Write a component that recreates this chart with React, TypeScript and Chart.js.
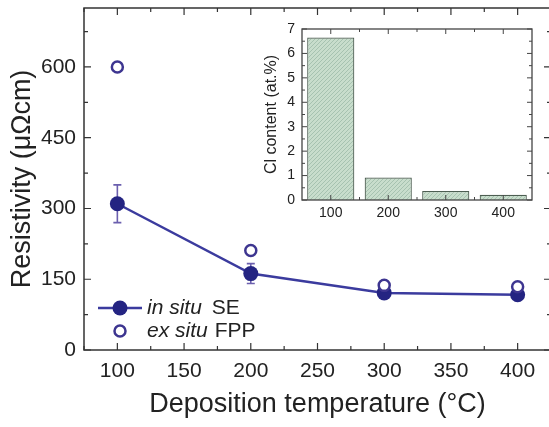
import React, { useEffect, useRef } from 'react';
import { Chart, registerables } from 'chart.js';
Chart.register(...registerables);

// ---- data ----
const temperatures = [100, 200, 300, 400];
const inSituSE = [310, 162, 121, 117];
const inSituErr = [40, 21, 5, 5];
const exSituFPP = [600, 211, 137, 134];
const clCategories = ['100', '200', '300', '400'];
const clContent = [6.65, 0.92, 0.37, 0.21];
const xTickLabels = [100, 150, 200, 250, 300, 350, 400];
const yTickLabels = [0, 150, 300, 450, 600];
const insetYTicks = [0, 1, 2, 3, 4, 5, 6, 7];

const FONT = "'Liberation Sans', Arial, Helvetica, sans-serif";
const TEXT = '#222';
const FRAME = '#333';

const mainFrame = {
  id: 'mainFrame',
  beforeDatasetsDraw(chart: any) {
    const { ctx, chartArea: a, scales } = chart;
    const x = scales.x, y = scales.y;
    ctx.save();
    ctx.strokeStyle = FRAME;
    ctx.lineWidth = 1.5;
    ctx.strokeRect(a.left, a.top, a.right - a.left, a.bottom - a.top);
    ctx.lineWidth = 1.2;
    ctx.beginPath();
    for (let v = x.min; v <= x.max + 1e-6; v += 25) {
      const px = x.getPixelForValue(v);
      const len = v % 50 === 0 ? 7 : 4;
      ctx.moveTo(px, a.bottom); ctx.lineTo(px, a.bottom - len);
      ctx.moveTo(px, a.top); ctx.lineTo(px, a.top + len);
    }
    for (let v = 0; v <= y.max; v += 75) {
      const py = y.getPixelForValue(v);
      const len = v % 150 === 0 ? 7 : 4;
      ctx.moveTo(a.left, py); ctx.lineTo(a.left + len, py);
      ctx.moveTo(a.right, py); ctx.lineTo(a.right - len, py);
    }
    ctx.stroke();
    // error bars
    ctx.strokeStyle = '#6b5fae';
    ctx.lineWidth = 1.6;
    ctx.beginPath();
    temperatures.forEach((t, i) => {
      const px = x.getPixelForValue(t);
      const top = y.getPixelForValue(inSituSE[i] + inSituErr[i]);
      const bot = y.getPixelForValue(inSituSE[i] - inSituErr[i]);
      ctx.moveTo(px, top); ctx.lineTo(px, bot);
      ctx.moveTo(px - 4, top); ctx.lineTo(px + 4, top);
      ctx.moveTo(px - 4, bot); ctx.lineTo(px + 4, bot);
    });
    ctx.stroke();
    ctx.restore();
  },
  afterDatasetsDraw(chart: any) {
    const { ctx } = chart;
    ctx.save();
    // legend
    const lx = 120, y1 = 308, y2 = 331, tx = 147;
    ctx.strokeStyle = '#3b3b9e';
    ctx.lineWidth = 2.5;
    ctx.beginPath(); ctx.moveTo(98, y1); ctx.lineTo(142, y1); ctx.stroke();
    ctx.fillStyle = '#242482';
    ctx.beginPath(); ctx.arc(lx, y1, 7.5, 0, Math.PI * 2); ctx.fill();
    ctx.strokeStyle = '#3d3590';
    ctx.fillStyle = '#fff';
    ctx.lineWidth = 2.5;
    ctx.beginPath(); ctx.arc(lx, y2, 5.5, 0, Math.PI * 2); ctx.fill(); ctx.stroke();
    ctx.fillStyle = TEXT;
    ctx.textBaseline = 'middle';
    ctx.textAlign = 'left';
    ctx.font = `italic 21px ${FONT}`;
    const w1 = ctx.measureText('in situ').width;
    ctx.fillText('in situ', tx, y1);
    const w2 = ctx.measureText('ex situ').width;
    ctx.fillText('ex situ', tx, y2);
    ctx.font = `21px ${FONT}`;
    ctx.fillText('SE', tx + w1 + 10, y1);
    ctx.fillText('FPP', tx + w2 + 7, y2);
    ctx.restore();
  },
};

const insetFrame = {
  id: 'insetFrame',
  beforeDatasetsDraw(chart: any) {
    const { ctx, chartArea: a } = chart;
    ctx.save();
    ctx.fillStyle = '#fff';
    ctx.fillRect(a.left, a.top, a.right - a.left, a.bottom - a.top);
    ctx.restore();
  },
  afterDatasetsDraw(chart: any) {
    const { ctx, chartArea: a, scales } = chart;
    const x = scales.x, y = scales.y;
    ctx.save();
    ctx.strokeStyle = '#444';
    ctx.lineWidth = 1.3;
    ctx.strokeRect(a.left, a.top, a.right - a.left, a.bottom - a.top);
    ctx.lineWidth = 1;
    ctx.beginPath();
    for (let v = 0; v <= 7 + 1e-6; v += 0.5) {
      const py = y.getPixelForValue(v);
      const len = Number.isInteger(v) ? 5 : 3;
      ctx.moveTo(a.left, py); ctx.lineTo(a.left + len, py);
      ctx.moveTo(a.right, py); ctx.lineTo(a.right - len, py);
    }
    const n = clCategories.length;
    for (let i = 0; i < n; i++) {
      const px = x.getPixelForValue(i);
      ctx.moveTo(px, a.top); ctx.lineTo(px, a.top + 5);
      ctx.moveTo(px, a.bottom); ctx.lineTo(px, a.bottom - 5);
      if (i < n - 1) {
        const mx = (px + x.getPixelForValue(i + 1)) / 2;
        ctx.moveTo(mx, a.top); ctx.lineTo(mx, a.top + 3);
        ctx.moveTo(mx, a.bottom); ctx.lineTo(mx, a.bottom - 3);
      }
    }
    ctx.stroke();
    ctx.restore();
  },
};

function makePattern(): CanvasPattern | string {
  const c = document.createElement('canvas');
  c.width = 4; c.height = 4;
  const g = c.getContext('2d');
  if (!g) return '#c1d8c6';
  g.fillStyle = '#c8ddcc';
  g.fillRect(0, 0, 4, 4);
  g.strokeStyle = '#a6c2b0';
  g.lineWidth = 1;
  g.beginPath();
  g.moveTo(0, 4); g.lineTo(4, 0);
  g.moveTo(-2, 2); g.lineTo(2, -2);
  g.moveTo(2, 6); g.lineTo(6, 2);
  g.stroke();
  const p = g.createPattern(c, 'repeat');
  return p || '#c1d8c6';
}

const zeroPadY = (w: number) => (s: any) => { s.width = w; s.paddingTop = 0; s.paddingBottom = 0; };
const zeroPadX = (h: number) => (s: any) => { s.height = h; s.paddingLeft = 0; s.paddingRight = 0; };

export default function App() {
  const mainRef = useRef<HTMLCanvasElement>(null);
  const insetRef = useRef<HTMLCanvasElement>(null);

  useEffect(() => {
    if (!mainRef.current || !insetRef.current) return;
    const main = new Chart(mainRef.current, {
      type: 'line',
      data: {
        datasets: [
          {
            label: 'ex situ FPP',
            data: temperatures.map((t, i) => ({ x: t, y: exSituFPP[i] })),
            showLine: false,
            pointRadius: 5.5,
            pointBorderWidth: 2.5,
            pointBackgroundColor: '#fff',
            pointBorderColor: '#3d3590',
            borderColor: '#3d3590',
          },
          {
            label: 'in situ SE',
            data: temperatures.map((t, i) => ({ x: t, y: inSituSE[i] })),
            borderColor: '#3b3b9e',
            borderWidth: 2.5,
            pointRadius: 7.5,
            pointBorderWidth: 0,
            pointBackgroundColor: '#242482',
            pointBorderColor: '#242482',
            tension: 0,
          },
        ],
      } as any,
      options: {
        animation: false,
        responsive: false,
        maintainAspectRatio: false,
        layout: { padding: { left: 0, top: 7, right: 9, bottom: 0 } },
        plugins: { legend: { display: false }, tooltip: { enabled: false } },
        scales: {
          x: {
            type: 'linear',
            min: 75,
            max: 425,
            afterBuildTicks: (s: any) => { s.ticks = xTickLabels.map((v) => ({ value: v })); },
            afterFit: zeroPadX(77),
            grid: { display: false, drawTicks: false },
            border: { display: false },
            ticks: { font: { size: 21, family: FONT }, color: TEXT, padding: 9, maxRotation: 0, autoSkip: false },
            title: { display: true, text: 'Deposition temperature (°C)', font: { size: 27, family: FONT }, color: TEXT, padding: { top: 0, bottom: 6 } },
          },
          y: {
            type: 'linear',
            min: 0,
            max: 725,
            afterBuildTicks: (s: any) => { s.ticks = yTickLabels.map((v) => ({ value: v })); },
            afterFit: zeroPadY(84),
            grid: { display: false, drawTicks: false },
            border: { display: false },
            ticks: { font: { size: 21, family: FONT }, color: TEXT, padding: 8, autoSkip: false },
            title: { display: true, text: 'Resistivity (μΩcm)', font: { size: 27, family: FONT }, color: TEXT, padding: { top: 6, bottom: 0 } },
          },
        },
      } as any,
      plugins: [mainFrame],
    });

    const inset = new Chart(insetRef.current, {
      type: 'bar',
      data: {
        labels: clCategories,
        datasets: [
          {
            data: clContent,
            backgroundColor: makePattern() as any,
            borderColor: '#4d5e52',
            borderWidth: 1.2,
            barPercentage: 0.82,
            categoryPercentage: 1,
          },
        ],
      },
      options: {
        animation: false,
        responsive: false,
        maintainAspectRatio: false,
        layout: { padding: { left: 0, top: 9, right: 8, bottom: 0 } },
        plugins: { legend: { display: false }, tooltip: { enabled: false } },
        scales: {
          x: {
            type: 'category',
            offset: true,
            afterFit: zeroPadX(25),
            grid: { display: false, drawTicks: false },
            border: { display: false },
            ticks: { font: { size: 14, family: FONT }, color: TEXT, padding: 5, maxRotation: 0 },
          },
          y: {
            type: 'linear',
            min: 0,
            max: 7,
            afterBuildTicks: (s: any) => { s.ticks = insetYTicks.map((v) => ({ value: v })); },
            afterFit: zeroPadY(52),
            grid: { display: false, drawTicks: false },
            border: { display: false },
            ticks: { font: { size: 14, family: FONT }, color: TEXT, padding: 7 },
            title: { display: true, text: 'Cl content (at.%)', font: { size: 16, family: FONT }, color: TEXT, padding: { top: 12, bottom: 0 } },
          },
        },
      } as any,
      plugins: [insetFrame],
    });

    return () => { main.destroy(); inset.destroy(); };
  }, []);

  return (
    <div style={{ position: 'fixed', left: 0, top: 0, width: 549, height: 427, overflow: 'hidden', background: '#fff' }}>
      <canvas ref={mainRef} width={560} height={427} style={{ position: 'absolute', left: 0, top: 0, width: 560, height: 427 }} />
      <canvas ref={insetRef} width={290} height={205} style={{ position: 'absolute', left: 250, top: 20, width: 290, height: 205 }} />
    </div>
  );
}
